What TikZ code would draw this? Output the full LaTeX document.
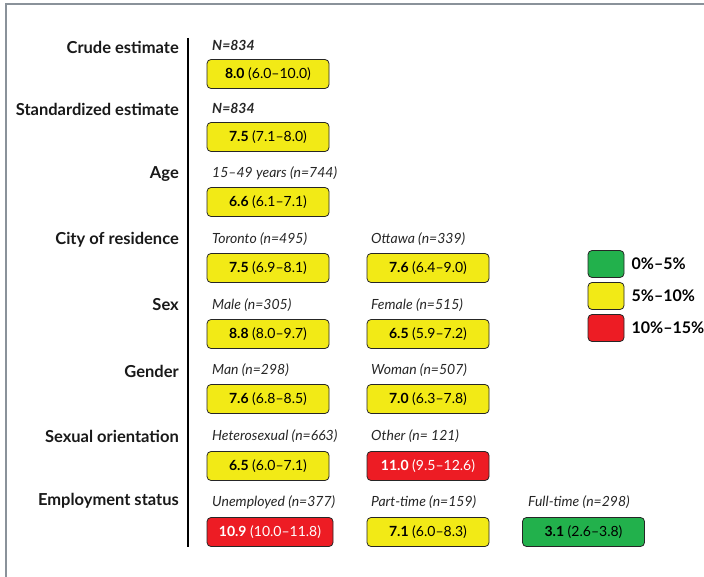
\documentclass[tikz,border=0pt]{standalone}
\usepackage{fontspec}
\setmainfont{Lato}
\usetikzlibrary{positioning}
\definecolor{lowgreen}{RGB}{34,177,76}
\definecolor{midyellow}{RGB}{242,234,22}
\definecolor{highred}{RGB}{237,28,36}
\definecolor{framegray}{RGB}{138,146,154}
\tikzset{
    est/.style={draw=black!85, rounded corners=4pt, minimum width=122pt, minimum height=29pt, inner sep=0pt, line width=0.8pt, font=\fontsize{14}{16}\selectfont}, % the estimate boxes
    low/.style={est, fill=lowgreen}, % 0%-5%
    mid/.style={est, fill=midyellow}, % 5%-10%
    high/.style={est, fill=highred, text=white}, % 10%-15%
    cat/.style={anchor=east, inner sep=0pt, text=black!90, font=\fontsize{16.5}{18}\selectfont\bfseries}, % category names on the left
    sub/.style={anchor=west, inner sep=0pt, text=black!85, font=\fontsize{14}{16}\selectfont\itshape}, % group names above the boxes
    key/.style={draw=black!85, rounded corners=4pt, minimum width=36pt, minimum height=27pt, line width=0.8pt}, % legend squares
    keytext/.style={anchor=west, inner sep=0pt, font=\fontsize{16}{18}\selectfont\bfseries},
}
\begin{document}
\begin{tikzpicture}[x=1pt, y=-1pt]
    \useasboundingbox (0,0) rectangle (704,577);
    % frame
    \draw[framegray, line width=1.5pt] (6,577) -- (6,4) -- (704,4);
    % axis
    \coordinate (axtop) at (188,38);
    \coordinate (axbot) at (188,547);
    \draw[line width=2pt] (axtop) -- (axbot);
    % categories
    \node[cat] (crude) at (179,47) {Crude estimate};
    \node[cat] (stdz) at (179,109) {Standardized estimate};
    \node[cat] (age) at (179,174) {Age};
    \node[cat] (city) at (179,240) {City of residence};
    \node[cat] (sex) at (179,305) {Sex};
    \node[cat] (gender) at (179,371) {Gender};
    \node[cat] (orient) at (179,436) {Sexual orientation};
    \node[cat] (employ) at (179,501) {Employment status};
    % first column
    \node[sub] (crudeN) at (212,45) {\textbf{N=834}};
    \node[mid] (crudebox) at (268,74) {\textbf{8.0} (6.0–10.0)};
    \node[sub] (stdzN) at (212,108) {\textbf{N=834}};
    \node[mid] (stdzbox) at (268,137) {\textbf{7.5} (7.1–8.0)};
    \node[sub] (ageN) at (212,173) {15–49 years (n=744)};
    \node[mid] (agebox) at (268,202) {\textbf{6.6} (6.1–7.1)};
    \node[sub] (torN) at (212,239) {Toronto (n=495)};
    \node[mid] (torbox) at (268,268) {\textbf{7.5} (6.9–8.1)};
    \node[sub] (maleN) at (212,305) {Male (n=305)};
    \node[mid] (malebox) at (268,334) {\textbf{8.8} (8.0–9.7)};
    \node[sub] (manN) at (212,370) {Man (n=298)};
    \node[mid] (manbox) at (268,399) {\textbf{7.6} (6.8–8.5)};
    \node[sub] (hetN) at (212,436) {Heterosexual (n=663)};
    \node[mid] (hetbox) at (268,466) {\textbf{6.5} (6.0–7.1)};
    \node[sub] (unempN) at (212,502) {Unemployed (n=377)};
    \node[high, minimum width=126pt] (unempbox) at (270,532) {\textbf{10.9} (10.0–11.8)};
    % second column
    \node[sub] (ottN) at (371,239) {Ottawa (n=339)};
    \node[mid] (ottbox) at (428,268) {\textbf{7.6} (6.4–9.0)};
    \node[sub] (femN) at (371,305) {Female (n=515)};
    \node[mid] (fembox) at (428,334) {\textbf{6.5} (5.9–7.2)};
    \node[sub] (womN) at (371,370) {Woman (n=507)};
    \node[mid] (wombox) at (428,399) {\textbf{7.0} (6.3–7.8)};
    \node[sub] (othN) at (371,436) {Other (n= 121)};
    \node[high] (othbox) at (428,466) {\textbf{11.0} (9.5–12.6)};
    \node[sub] (partN) at (371,502) {Part-time (n=159)};
    \node[mid] (partbox) at (428,532) {\textbf{7.1} (6.0–8.3)};
    % third column
    \node[sub] (fullN) at (528,502) {Full-time (n=298)};
    \node[low] (fullbox) at (583.5,532) {\textbf{3.1} (2.6–3.8)};
    % legend
    \node[key, fill=lowgreen] (keylow) at (606,264) {};
    \node[key, fill=midyellow] (keymid) at (606,296) {};
    \node[key, fill=highred] (keyhigh) at (606,328) {};
    \node[keytext] at ([xshift=7pt]keylow.east) {0\%–5\%};
    \node[keytext] at ([xshift=7pt]keymid.east) {5\%–10\%};
    \node[keytext] at ([xshift=7pt]keyhigh.east) {10\%–15\%};
\end{tikzpicture}
\end{document}
